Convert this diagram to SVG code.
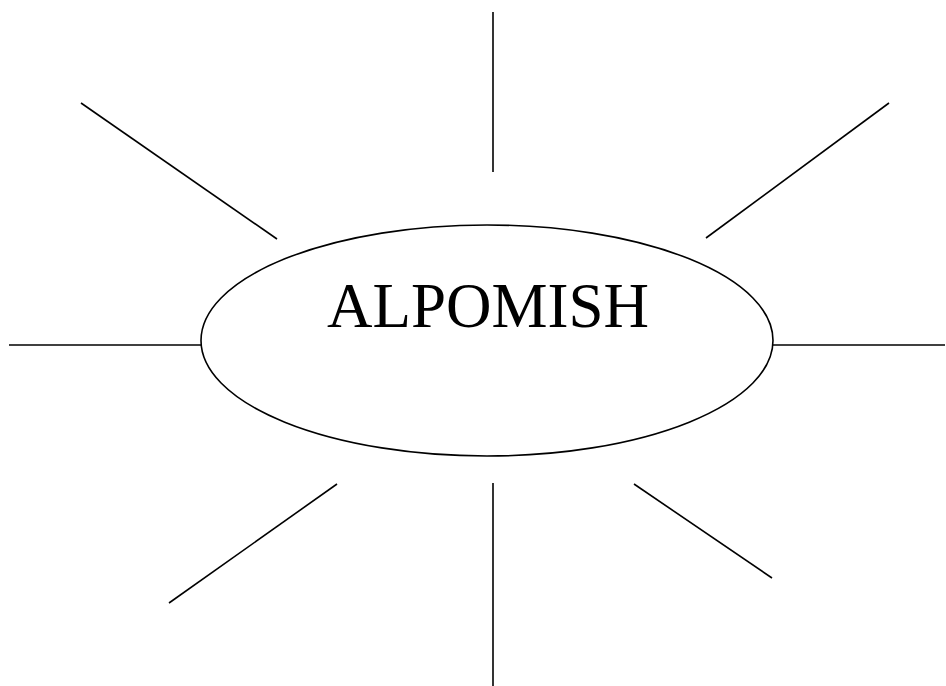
<svg xmlns="http://www.w3.org/2000/svg" width="946" height="686" viewBox="0 0 946 686">
<style>
.ln{stroke:#000;stroke-width:1.6;fill:none}
.lbl{font-family:"Liberation Serif","Times New Roman",serif;font-size:63px;fill:#000}
</style>
<rect width="946" height="686" fill="#fff"/>
<g id="connectors">
<line class="ln" x1="493" y1="12" x2="493" y2="172"/>
<line class="ln" x1="81" y1="103" x2="277" y2="239"/>
<line class="ln" x1="889" y1="103" x2="706" y2="238"/>
<line class="ln" x1="9" y1="345" x2="201" y2="345"/>
<line class="ln" x1="773" y1="345" x2="945" y2="345"/>
<line class="ln" x1="337" y1="484" x2="169" y2="603"/>
<line class="ln" x1="493" y1="483" x2="493" y2="686"/>
<line class="ln" x1="634" y1="484" x2="772" y2="578"/>
</g>
<g id="center">
<ellipse class="ln" cx="487" cy="340.5" rx="286" ry="115.5"/>
<text class="lbl" x="488" y="327" text-anchor="middle">ALPOMISH</text>
</g>
</svg>
